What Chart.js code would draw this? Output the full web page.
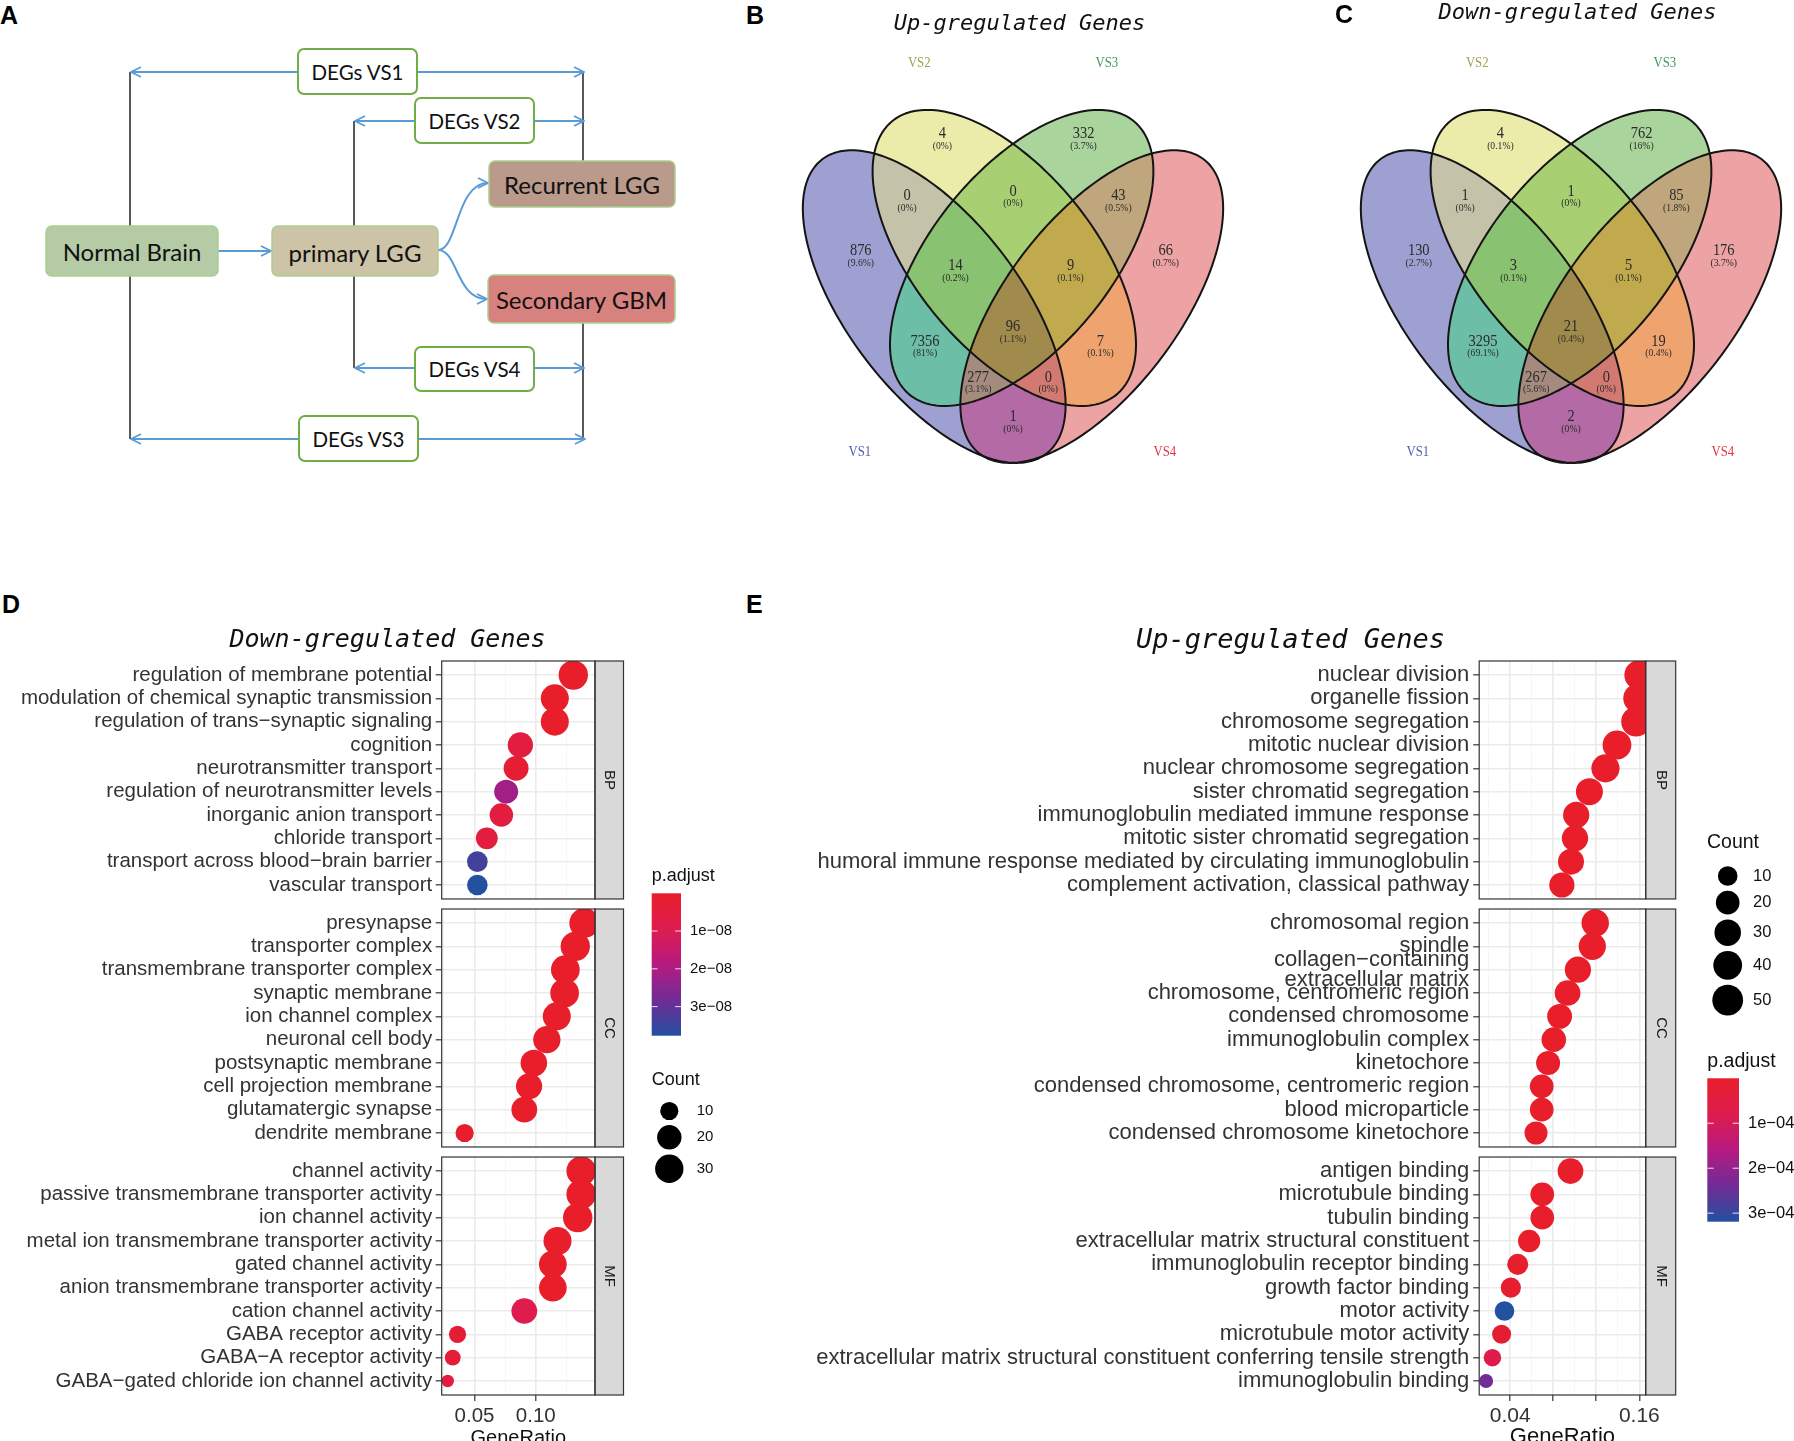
<!DOCTYPE html>
<html>
<head>
<meta charset="utf-8">
<title>DEGs overview</title>
<script src="https://cdn.jsdelivr.net/npm/chart.js@4.4.1/dist/chart.umd.min.js"></script>
<style>
  html, body { margin: 0; padding: 0; background: #fff; overflow: hidden; }
  body { position: relative; width: 1794px; height: 1441px; }
  canvas, svg, .tag { position: absolute; }
  .tag { font: bold 25px "Liberation Sans", Arial, sans-serif; line-height: 1; color: #000; }
</style>
</head>
<body>

<svg width="700" height="480" style="left:0;top:0" font-family="Lato, 'Open Sans', sans-serif">
  <defs>
    <marker id="hd" viewBox="0 0 12 12" refX="11" refY="6" markerWidth="12" markerHeight="12"
            markerUnits="userSpaceOnUse" orient="auto">
      <path d="M1,1 L11,6 L1,11" fill="none" stroke="#5b9bd5" stroke-width="1.8"/>
    </marker>
  </defs>
  <g stroke="#222" stroke-width="1.5">
    <line x1="130" y1="72" x2="130" y2="226"/><line x1="130" y1="276" x2="130" y2="439"/>
    <line x1="354" y1="121" x2="354" y2="226"/><line x1="354" y1="276" x2="354" y2="368"/>
    <line x1="583" y1="72" x2="583" y2="161"/><line x1="583" y1="323" x2="583" y2="439"/>
  </g>
  <g stroke="#5b9bd5" stroke-width="2" fill="none" marker-end="url(#hd)">
    <line x1="298" y1="72" x2="131" y2="72"/><line x1="417" y1="72" x2="584" y2="72"/>
    <line x1="415" y1="121" x2="355" y2="121"/><line x1="534" y1="121" x2="584" y2="121"/>
    <line x1="415" y1="368" x2="355" y2="368"/><line x1="534" y1="368" x2="584" y2="368"/>
    <line x1="299" y1="439" x2="131" y2="439"/><line x1="418" y1="439" x2="585" y2="439"/>
    <line x1="218" y1="251" x2="271" y2="251"/>
    <path d="M438,250 C458,250 456,183 488,183"/>
    <path d="M438,250 C458,250 456,299 487,299"/>
  </g>
  <g stroke="#70ad47" stroke-width="2" fill="#fff">
    <rect x="298" y="49" width="119" height="45" rx="6"/>
    <rect x="415" y="98" width="119" height="45" rx="6"/>
    <rect x="415" y="347" width="119" height="44" rx="6"/>
    <rect x="299" y="416" width="119" height="45" rx="6"/>
  </g>
  <g stroke="#a9cf8f" stroke-width="1.5">
    <rect x="46" y="226" width="172" height="50" rx="6" fill="#b4cba5"/>
    <rect x="272" y="226" width="166" height="50" rx="6" fill="#cdc3a7"/>
    <rect x="489" y="161" width="186" height="46" rx="6" fill="#ba9a8b"/>
    <rect x="488" y="275" width="187" height="48" rx="6" fill="#d8827f"/>
  </g>
  <g font-size="20.5" text-anchor="middle" dominant-baseline="central" fill="#111">
    <text x="357.5" y="72">DEGs VS1</text>
    <text x="474.5" y="121">DEGs VS2</text>
    <text x="474.5" y="369">DEGs VS4</text>
    <text x="358.5" y="439">DEGs VS3</text>
  </g>
  <g font-size="24" text-anchor="middle" dominant-baseline="central" fill="#111">
    <text x="132" y="251">Normal Brain</text>
    <text x="355" y="252">primary LGG</text>
    <text x="582" y="184">Recurrent LGG</text>
    <text x="581.5" y="299">Secondary GBM</text>
  </g>
</svg>

<canvas id="vennUp" width="445" height="563" style="left:791px;top:0"></canvas>
<canvas id="vennDown" width="445" height="563" style="left:1349px;top:0"></canvas>
<canvas id="dotDown" width="775" height="840" style="left:0;top:620px"></canvas>
<canvas id="dotUp" width="1007" height="840" style="left:787px;top:620px"></canvas>

<div class="tag" style="left:0px;top:3px">A</div>
<div class="tag" style="left:746px;top:3px">B</div>
<div class="tag" style="left:1335px;top:2px">C</div>
<div class="tag" style="left:2px;top:592px">D</div>
<div class="tag" style="left:746px;top:592px">E</div>

<script>
// ---------- Venn counts (panels B and C) ----------
const vennSets = ['VS1', 'VS2', 'VS3', 'VS4'];
// region = which sets it belongs to
const vennRegions = ['2', '3', '12', '23', '34', '1', '4', '123', '234', '1234', '13', '24', '134', '124', '14'];
const upCounts = [4, 332, 0, 0, 43, 876, 66, 14, 9, 96, 7356, 7, 277, 0, 1];
const downCounts = [4, 762, 1, 1, 85, 130, 176, 3, 5, 21, 3295, 19, 267, 0, 2];

// ---------- GO dot plot, down-regulated genes (panel D) ----------
const downBP = ['regulation of membrane potential', 'modulation of chemical synaptic transmission',
  'regulation of trans\u2212synaptic signaling', 'cognition', 'neurotransmitter transport',
  'regulation of neurotransmitter levels', 'inorganic anion transport', 'chloride transport',
  'transport across blood\u2212brain barrier', 'vascular transport'];
const downBPRatio = [0.1306, 0.1155, 0.1155, 0.0874, 0.0839, 0.0758, 0.0719, 0.0600, 0.0523, 0.0523];
const downBPCount = [33, 29, 29, 22, 21, 19, 18, 15, 13, 13];
const downBPPadj = [1e-11, 2e-11, 2e-11, 0.57e-8, 0.2e-8, 2.15e-8, 0.55e-8, 0.5e-8, 3.4e-8, 3.77e-8];

const downCC = ['presynapse', 'transporter complex', 'transmembrane transporter complex', 'synaptic membrane',
  'ion channel complex', 'neuronal cell body', 'postsynaptic membrane', 'cell projection membrane',
  'glutamatergic synapse', 'dendrite membrane'];
const downCCRatio = [0.1396, 0.1322, 0.1241, 0.1235, 0.1171, 0.1090, 0.0984, 0.0945, 0.0906, 0.0419];
const downCCCount = [35, 33, 31, 31, 29, 27, 25, 24, 23, 10];
const downCCPadj = [1e-11, 1e-11, 1e-11, 1e-11, 2e-11, 3e-11, 5e-11, 5e-11, 8e-11, 0.1e-8];

const downMF = ['channel activity', 'passive transmembrane transporter activity', 'ion channel activity',
  'metal ion transmembrane transporter activity', 'gated channel activity',
  'anion transmembrane transporter activity', 'cation channel activity', 'GABA receptor activity',
  'GABA\u2212A receptor activity', 'GABA\u2212gated chloride ion channel activity'];
const downMFRatio = [0.1371, 0.1371, 0.1342, 0.1177, 0.1139, 0.1139, 0.0906, 0.0361, 0.0322, 0.0281];
const downMFCount = [34, 34, 33, 29, 28, 28, 23, 9, 8, 7];
const downMFPadj = [1e-11, 1e-11, 1e-11, 2e-11, 3e-11, 3e-11, 0.95e-8, 0.25e-8, 0.3e-8, 0.55e-8];

// ---------- GO dot plot, up-regulated genes (panel E) ----------
const upBP = ['nuclear division', 'organelle fission', 'chromosome segregation', 'mitotic nuclear division',
  'nuclear chromosome segregation', 'sister chromatid segregation', 'immunoglobulin mediated immune response',
  'mitotic sister chromatid segregation', 'humoral immune response mediated by circulating immunoglobulin',
  'complement activation, classical pathway'];
const upBPRatio = [0.1600, 0.1589, 0.1570, 0.1392, 0.1285, 0.1136, 0.1013, 0.1002, 0.0965, 0.0880];
const upBPCount = [46, 45, 45, 40, 37, 32, 29, 29, 28, 25];
const upBPPadj = [1e-9, 1e-9, 2e-9, 5e-9, 1e-8, 5e-8, 2e-7, 3e-7, 4e-7, 8e-7];

const upCC = ['chromosomal region', 'spindle', ['collagen\u2212containing', 'extracellular matrix'],
  'chromosome, centromeric region', 'condensed chromosome', 'immunoglobulin complex', 'kinetochore',
  'condensed chromosome, centromeric region', 'blood microparticle', 'condensed chromosome kinetochore'];
const upCCRatio = [0.1190, 0.1163, 0.1029, 0.0933, 0.0859, 0.0805, 0.0752, 0.0693, 0.0693, 0.0640];
const upCCCount = [34, 33, 29, 27, 24, 23, 21, 20, 20, 18];
const upCCPadj = [1e-8, 2e-8, 5e-8, 1e-7, 2e-7, 3e-7, 5e-7, 8e-7, 1e-6, 2e-6];

const upMF = ['antigen binding', 'microtubule binding', 'tubulin binding', 'extracellular matrix structural constituent',
  'immunoglobulin receptor binding', 'growth factor binding', 'motor activity', 'microtubule motor activity',
  'extracellular matrix structural constituent conferring tensile strength', 'immunoglobulin binding'];
const upMFRatio = [0.0960, 0.0698, 0.0698, 0.0576, 0.0470, 0.0406, 0.0347, 0.0320, 0.0235, 0.0176];
const upMFCount = [27, 20, 20, 16, 13, 11, 10, 9, 7, 5];
const upMFPadj = [1e-7, 5e-7, 5e-7, 2e-6, 5e-6, 1e-5, 3.19e-4, 2e-5, 0.68e-4, 2.38e-4];

// legend breaks
const downCountBreaks = [10, 20, 30];
const upCountBreaks = [10, 20, 30, 40, 50];
const downPadjBreaks = [1e-8, 2e-8, 3e-8];
const upPadjBreaks = [1e-4, 2e-4, 3e-4];

// ---------- Venn geometry (unit square, y up) ----------
const ELLIPSES = [
  [0.337, 0.469, 0.356, 0.170, -47.3],
  [0.482, 0.558, 0.342, 0.175, -44.7],
  [0.518, 0.558, 0.342, 0.175, 44.7],
  [0.663, 0.469, 0.356, 0.170, 47.3]
];
const REGION_POS = [[0.354, 0.786], [0.646, 0.786], [0.281, 0.672], [0.5, 0.680], [0.718, 0.672],
  [0.185, 0.571], [0.816, 0.571], [0.381, 0.544], [0.619, 0.544], [0.5, 0.432], [0.318, 0.406],
  [0.681, 0.406], [0.428, 0.340], [0.573, 0.340], [0.5, 0.267]];
const SET_POS = [[0.183, 0.203], [0.306, 0.914], [0.694, 0.914], [0.814, 0.203]];
const SET_COLORS = ['#4b5db3', '#a09f4e', '#3c9a5e', '#e23344'];
const REGION_FILL = {
  '1': '#9fa0d2', '2': '#ececaa', '3': '#a9d49b', '4': '#eda3a3',
  '12': '#c4c3a9', '13': '#6cbfa6', '14': '#b46aa5', '23': '#a9cf73', '24': '#efa46f', '34': '#c0a67d',
  '123': '#89c271', '124': '#d27a71', '134': '#a48b7e', '234': '#c1a94d', '1234': '#a18b4c'
};

// narrow serif text, like the SimSun labels of the original
function squeezedText(ctx, text, x, y, sx) {
  ctx.save();
  ctx.translate(x, y);
  ctx.scale(sx, 1);
  ctx.fillText(text, 0, 0);
  ctx.restore();
}

function makeVenn(id, counts, title, titleY) {
  const total = counts.reduce((a, b) => a + b, 0);
  const order = Object.keys(REGION_FILL).sort((a, b) => a.length - b.length);

  const vennPlugin = {
    id: 'venn',
    beforeDatasetsDraw(chart) {
      const { ctx, scales: { x, y } } = chart;
      const path = ([cx, cy, a, b, rot]) => {
        const r = rot * Math.PI / 180;
        ctx.beginPath();
        for (let k = 0; k <= 240; k++) {
          const t = k / 240 * 2 * Math.PI;
          const ux = cx + a * Math.cos(t) * Math.cos(r) - b * Math.sin(t) * Math.sin(r);
          const uy = cy + a * Math.cos(t) * Math.sin(r) + b * Math.sin(t) * Math.cos(r);
          ctx.lineTo(x.getPixelForValue(ux), y.getPixelForValue(uy));
        }
        ctx.closePath();
      };
      // paint regions from single sets up to the 4-way overlap
      order.forEach(key => {
        ctx.save();
        for (const ch of key) { path(ELLIPSES[+ch - 1]); ctx.clip(); }
        ctx.fillStyle = REGION_FILL[key];
        ctx.fillRect(0, 0, chart.width, chart.height);
        ctx.restore();
      });
      ctx.save();
      ctx.lineWidth = 2;
      ctx.strokeStyle = '#141414';
      ELLIPSES.forEach(e => { path(e); ctx.stroke(); });
      ctx.restore();
    },
    afterDatasetsDraw(chart) {
      const { ctx } = chart;
      ctx.save();
      ctx.textAlign = 'center';
      ctx.textBaseline = 'middle';
      ctx.fillStyle = '#2b2b2b';
      chart.getDatasetMeta(0).data.forEach((p, i) => {
        const pct = +(counts[i] / total * 100).toFixed(1);
        ctx.font = '17px "Liberation Serif", serif';
        squeezedText(ctx, String(counts[i]), p.x, p.y, 0.85);
        ctx.font = '10.5px "Liberation Serif", serif';
        squeezedText(ctx, '(' + pct + '%)', p.x, p.y + 12.5, 0.92);
      });
      chart.getDatasetMeta(1).data.forEach((p, i) => {
        ctx.fillStyle = SET_COLORS[i];
        ctx.font = '15px "Liberation Serif", serif';
        squeezedText(ctx, vennSets[i], p.x, p.y, 0.85);
      });
      ctx.fillStyle = '#111';
      ctx.font = 'italic 22px "DejaVu Sans Mono", monospace';
      ctx.fillText(title, chart.width / 2 + 6, titleY);
      ctx.restore();
    }
  };

  new Chart(document.getElementById(id), {
    type: 'scatter',
    data: {
      datasets: [
        { data: REGION_POS.map(([x, y]) => ({ x, y })), pointRadius: 0 },
        { data: SET_POS.map(([x, y]) => ({ x, y })), pointRadius: 0 }
      ]
    },
    options: {
      responsive: false,
      animation: false,
      events: [],
      layout: { padding: 0 },
      scales: {
        x: { display: false, min: 0.0407, max: 0.9614 },
        y: { display: false, min: 0, max: 1.0298 }
      },
      plugins: { legend: { display: false }, tooltip: { enabled: false } }
    },
    plugins: [vennPlugin]
  });
}

// ---------- dot plots ----------
const FACET_STEP = 10.63;          // 10 rows + ggplot 0.6 expansion each side + gap
const rowPos = (f, i) => f * FACET_STEP + i;
const PADJ_STOPS = [[0, [232, 30, 42]], [0.25, [222, 28, 78]], [0.5, [182, 26, 128]],
  [0.75, [112, 44, 150]], [1, [36, 80, 160]]];

function padjColor(t) {
  t = Math.max(0, Math.min(1, t));
  for (let k = 1; k < PADJ_STOPS.length; k++) {
    const [t1, c1] = PADJ_STOPS[k];
    if (t <= t1) {
      const [t0, c0] = PADJ_STOPS[k - 1];
      const f = (t - t0) / (t1 - t0);
      return 'rgb(' + c0.map((v, j) => Math.round(v + (c1[j] - v) * f)).join(',') + ')';
    }
  }
  return 'rgb(36,80,160)';
}

function sci(v) {
  const e = Math.floor(Math.log10(v) + 1e-9);
  return Math.round(v / Math.pow(10, e)) + 'e\u2212' + String(-e).padStart(2, '0');
}

const SANS = '"Liberation Sans", Arial, sans-serif';

function makeDot(id, cfg) {
  const facets = cfg.facets;
  const allCount = facets.flatMap(f => f.count);
  const allP = facets.flatMap(f => f.padj);
  const cMin = Math.min(...allCount), cMax = Math.max(...allCount);
  const pMin = Math.min(...allP), pMax = Math.max(...allP);
  const size = c => cfg.dMin + (cfg.dMax - cfg.dMin) * Math.sqrt(Math.max(0, c - cMin) / (cMax - cMin));
  const colour = p => padjColor((p - pMin) / (pMax - pMin));

  const yTicks = [], yLabels = [];
  facets.forEach((f, fi) => f.terms.forEach((t, i) => { yTicks.push(rowPos(fi, i)); yLabels.push(t); }));
  const yMax = rowPos(facets.length - 1, facets[facets.length - 1].terms.length - 1) + 0.6;
  const near = (arr, v) => arr.some(m => Math.abs(m - v) < 1e-9);

  const facetBounds = y => facets.map((f, fi) => [
    y.getPixelForValue(rowPos(fi, 0) - 0.6),
    y.getPixelForValue(rowPos(fi, f.terms.length - 1) + 0.6)
  ]);

  const clearGaps = chart => {
    const { ctx, chartArea: a, scales: { y } } = chart;
    const b = facetBounds(y);
    ctx.save();
    ctx.fillStyle = '#fff';
    for (let k = 0; k < b.length - 1; k++) {
      ctx.fillRect(a.left - 1, b[k][1], a.right - a.left + cfg.stripW + 3, b[k + 1][0] - b[k][1]);
    }
    ctx.restore();
  };

  const drawLegends = chart => {
    const { ctx } = chart;
    const L = cfg.legend;
    const X = v => v - cfg.ox, Y = v => v - cfg.oy;
    ctx.save();
    ctx.textAlign = 'left';
    ctx.textBaseline = 'middle';
    // size legend
    ctx.fillStyle = '#111';
    ctx.font = L.titleSize + 'px ' + SANS;
    ctx.fillText('Count', X(L.countX), Y(L.countY));
    let ky = L.countY + L.keyOffset, prev = 0;
    cfg.countBreaks.forEach((c, i) => {
      const d = size(c);
      if (i > 0) ky += Math.max(24, (prev + d) / 2 + 5);
      prev = d;
      ctx.beginPath();
      ctx.arc(X(L.keyX), Y(ky), d / 2, 0, Math.PI * 2);
      ctx.fillStyle = '#000';
      ctx.fill();
      ctx.fillStyle = '#111';
      ctx.font = L.textSize + 'px ' + SANS;
      ctx.fillText(String(c), X(L.keyLabelX), Y(ky));
    });
    // colour bar
    ctx.font = L.titleSize + 'px ' + SANS;
    ctx.fillText('p.adjust', X(L.barX), Y(L.padjY));
    const bx = X(L.barX), by = Y(L.barTop);
    const g = ctx.createLinearGradient(0, by, 0, by + L.barH);
    for (let k = 0; k <= 20; k++) g.addColorStop(k / 20, padjColor(k / 20));
    ctx.fillStyle = g;
    ctx.fillRect(bx, by, L.barW, L.barH);
    ctx.lineWidth = 1;
    cfg.padjBreaks.forEach(p => {
      const ty = by + (p - pMin) / (pMax - pMin) * L.barH;
      ctx.strokeStyle = 'rgba(255,255,255,0.85)';
      ctx.beginPath();
      ctx.moveTo(bx, ty); ctx.lineTo(bx + L.barW / 5, ty);
      ctx.moveTo(bx + L.barW * 4 / 5, ty); ctx.lineTo(bx + L.barW, ty);
      ctx.stroke();
      ctx.fillStyle = '#111';
      ctx.font = L.textSize + 'px ' + SANS;
      ctx.fillText(sci(p), bx + L.barW + 9, ty);
    });
    // plot title, centred on the whole ggplot figure
    ctx.fillStyle = '#111';
    ctx.textAlign = 'center';
    ctx.font = 'italic ' + cfg.titleSize + 'px "DejaVu Sans Mono", monospace';
    ctx.fillText(cfg.title, X(cfg.titleX), Y(cfg.titleY));
    ctx.restore();
  };

  const facetPlugin = {
    id: 'facets',
    beforeDatasetsDraw(chart) { clearGaps(chart); },
    afterDatasetsDraw(chart) {
      clearGaps(chart);
      const { ctx, chartArea: a, scales: { y } } = chart;
      ctx.save();
      facetBounds(y).forEach(([top, bot], fi) => {
        ctx.fillStyle = '#d9d9d9';
        ctx.fillRect(a.right, top, cfg.stripW, bot - top);
        ctx.strokeStyle = '#333';
        ctx.lineWidth = 1.2;
        ctx.strokeRect(a.left, top, a.right - a.left, bot - top);
        ctx.strokeRect(a.right, top, cfg.stripW, bot - top);
        ctx.save();
        ctx.translate(a.right + cfg.stripW / 2, (top + bot) / 2);
        ctx.rotate(Math.PI / 2);
        ctx.fillStyle = '#1a1a1a';
        ctx.font = '15px ' + SANS;
        ctx.textAlign = 'center';
        ctx.textBaseline = 'middle';
        ctx.fillText(cfg.facetNames[fi], 0, 0);
        ctx.restore();
      });
      ctx.restore();
      drawLegends(chart);
    }
  };

  new Chart(document.getElementById(id), {
    type: 'bubble',
    data: {
      datasets: facets.map((f, fi) => ({
        data: f.ratio.map((x, i) => ({ x, y: rowPos(fi, i), r: size(f.count[i]) / 2 })),
        backgroundColor: f.padj.map(colour),
        borderWidth: 0,
        clip: 0
      }))
    },
    options: {
      responsive: false,
      animation: false,
      events: [],
      layout: { padding: { left: 0, right: cfg.padRight, top: 41, bottom: 0 } },
      scales: {
        x: {
          type: 'linear', min: cfg.xMin, max: cfg.xMax,
          afterBuildTicks: s => { s.ticks = cfg.xGrid.map(value => ({ value })); },
          afterFit: s => { s.height = 65; },
          ticks: {
            autoSkip: false, maxRotation: 0, padding: 3, color: '#333',
            font: { family: SANS, size: cfg.xTickSize },
            callback: v => near(cfg.xLabelled, v) ? v.toFixed(2) : ''
          },
          grid: {
            color: c => c.tick && near(cfg.xMajor, c.tick.value) ? '#ebebeb' : '#f4f4f4',
            lineWidth: c => c.tick && near(cfg.xMajor, c.tick.value) ? 1.6 : 0.8,
            tickLength: 6, tickWidth: 1.2,
            tickColor: c => c.tick && near(cfg.xMajor, c.tick.value) ? '#333' : 'rgba(0,0,0,0)'
          },
          border: { display: false },
          title: {
            display: true, text: 'GeneRatio', color: '#111',
            font: { family: SANS, size: cfg.xTitleSize, lineHeight: 1.2 },
            padding: { top: 0, bottom: 10 }
          }
        },
        y: {
          type: 'linear', reverse: true, min: -0.6, max: yMax,
          afterBuildTicks: s => { s.ticks = yTicks.map(value => ({ value })); },
          afterFit: s => { s.width = cfg.axisWidth; },
          ticks: {
            autoSkip: false, padding: cfg.tickPad, color: '#333',
            font: { family: SANS, size: cfg.labelSize, lineHeight: 0.92 },
            callback: (v, i) => yLabels[i]
          },
          grid: { color: '#ebebeb', lineWidth: 1.6, tickLength: 6, tickColor: '#333', tickWidth: 1.2 },
          border: { display: false }
        }
      },
      plugins: {
        legend: { display: false },
        tooltip: { enabled: false },
        title: { display: false }
      }
    },
    plugins: [facetPlugin]
  });
}

makeVenn('vennUp', upCounts, 'Up-gregulated Genes', 24);
makeVenn('vennDown', downCounts, 'Down-gregulated Genes', 13);

makeDot('dotDown', {
  title: 'Down-gregulated Genes', titleSize: 25, titleX: 387.5, titleY: 640,
  facetNames: ['BP', 'CC', 'MF'],
  facets: [
    { terms: downBP, ratio: downBPRatio, count: downBPCount, padj: downBPPadj },
    { terms: downCC, ratio: downCCRatio, count: downCCCount, padj: downCCPadj },
    { terms: downMF, ratio: downMFRatio, count: downMFCount, padj: downMFPadj }
  ],
  countBreaks: downCountBreaks, padjBreaks: downPadjBreaks,
  dMin: 12.5, dMax: 30,
  xMin: 0.0232, xMax: 0.1483,
  xGrid: [0.025, 0.05, 0.075, 0.10, 0.125], xMajor: [0.05, 0.10], xLabelled: [0.05, 0.10],
  xTickSize: 20.5, xTitleSize: 20,
  axisWidth: 441.7, tickPad: 3.5, labelSize: 20.5,
  padRight: 180, stripW: 28.5,
  ox: 0, oy: 620,
  legend: {
    titleSize: 18, textSize: 15,
    countX: 651.7, countY: 1080, keyOffset: 31, keyX: 669.3, keyLabelX: 696.7,
    padjY: 876, barX: 651.7, barTop: 893.3, barW: 29.3, barH: 142.4
  }
});

makeDot('dotUp', {
  title: 'Up-gregulated Genes', titleSize: 27, titleX: 1290.5, titleY: 641,
  facetNames: ['BP', 'CC', 'MF'],
  facets: [
    { terms: upBP, ratio: upBPRatio, count: upBPCount, padj: upBPPadj },
    { terms: upCC, ratio: upCCRatio, count: upCCCount, padj: upCCPadj },
    { terms: upMF, ratio: upMFRatio, count: upMFCount, padj: upMFPadj }
  ],
  countBreaks: upCountBreaks, padjBreaks: upPadjBreaks,
  dMin: 14, dMax: 30,
  xMin: 0.0112, xMax: 0.1659,
  xGrid: [0.02, 0.04, 0.06, 0.08, 0.10, 0.12, 0.14, 0.16], xMajor: [0.04, 0.08, 0.12, 0.16], xLabelled: [0.04, 0.16],
  xTickSize: 21, xTitleSize: 22,
  axisWidth: 692.2, tickPad: 4, labelSize: 22,
  padRight: 148.3, stripW: 30,
  ox: 787, oy: 620,
  legend: {
    titleSize: 19.5, textSize: 16.5,
    countX: 1707, countY: 843, keyOffset: 33, keyX: 1727.7, keyLabelX: 1753,
    padjY: 1062, barX: 1707.3, barTop: 1078.3, barW: 31.7, barH: 143.4
  }
});
</script>
</body>
</html>
